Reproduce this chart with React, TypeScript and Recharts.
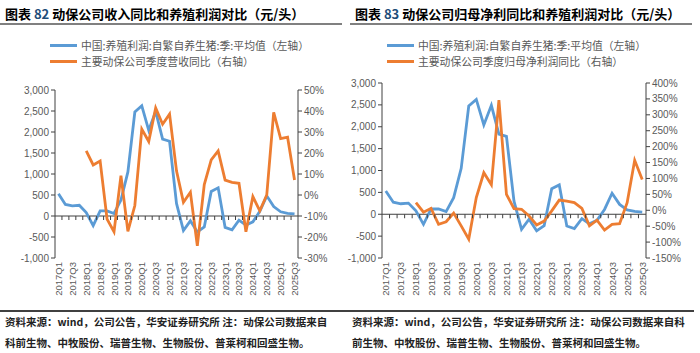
import React from 'react';
import { LineChart, Line, XAxis, YAxis, ReferenceLine } from 'recharts';

// --- 数据 ---
const quarters = [
  '2017Q1', '2017Q2', '2017Q3', '2017Q4', '2018Q1', '2018Q2', '2018Q3', '2018Q4',
  '2019Q1', '2019Q2', '2019Q3', '2019Q4', '2020Q1', '2020Q2', '2020Q3', '2020Q4',
  '2021Q1', '2021Q2', '2021Q3', '2021Q4', '2022Q1', '2022Q2', '2022Q3', '2022Q4',
  '2023Q1', '2023Q2', '2023Q3', '2023Q4', '2024Q1', '2024Q2', '2024Q3', '2024Q4',
  '2025Q1', '2025Q2', '2025Q3',
];

// 自繁自养生猪养殖利润（元/头）
const pigProfit = [
  530, 275, 240, 255, 80, -230, 120, 120, 60, 380, 1050, 2475, 2625, 2040, 2490, 1830,
  1780, 300, -345, -115, -380, -260, 585, 670, -270, -330, -100, -220, -140, 110, 480, 225,
  100, 65, 50,
];

// 主要动保公司季度营收同比（%）
const revenueYoy = [
  null, null, null, null, 21, 14.3, 16.2, -11.5, -17.5, 9.2, -17.3, -5, 31.4, 25.5, 41.5, 33.7,
  38.5, 11.5, -3.5, 1.3, -24.2, 5, 16.7, 21, 7.1, 6, 5.6, -17.5, -0.8, -7.5, 0, 39.4,
  26.8, 27.5, 7.1,
];

// 主要动保公司季度归母净利润同比（%）
const netProfitYoy = [
  null, null, null, null, 24, -6, 6, -44, -36, -9, -49, -91, 40, 118, 80, 346,
  50, 5, 3, -18, -46, -34, -2, 32, 29, 24, 6, -49, -31, -62, -44, -42,
  24, 157, 97,
];

const profitTicks = [-1000, -500, 0, 500, 1000, 1500, 2000, 2500, 3000];
const revenueTicks = [-30, -20, -10, 0, 10, 20, 30, 40, 50];
const netProfitTicks = [-150, -100, -50, 0, 50, 100, 150, 200, 250, 300, 350, 400];

const BLUE = '#5B9BD5';
const ORANGE = '#ED7D31';
const AXIS = '#404040';
const TEXT = '#595959';
const NUM_FONT = '"Liberation Sans", Arial, sans-serif';
const CJK_FONT = '"Noto Sans CJK SC", "Noto Sans", sans-serif';

const chartData = quarters.map((q, i) => ({
  q,
  profit: pigProfit[i],
  rev: revenueYoy[i],
  net: netProfitYoy[i],
}));

const fmtThousands = (v: number) => v.toLocaleString('en-US');
const fmtPct = (v: number) => `${v}%`;

// X 轴：标签在底部竖排，刻度线画在 0 线上（Excel 风格）
const makeTick = (zeroY: number, labelY: number, step: number) => (props: any) => {
  const { x, payload } = props;
  const i = payload.index;
  return (
    <g>
      {i < quarters.length - 1 && (
        <line x1={x + step / 2} x2={x + step / 2} y1={zeroY} y2={zeroY + 4} stroke={AXIS} strokeWidth={1} />
      )}
      {i % 2 === 0 && (
        <text
          transform={`translate(${x},${labelY}) rotate(-90)`}
          textAnchor="end"
          dominantBaseline="central"
          fontSize={9.5}
          fontFamily={NUM_FONT}
          fill={TEXT}
        >
          {payload.value}
        </text>
      )}
    </g>
  );
};

interface PanelProps {
  left: number;
  shift: number; // 图表区相对面板左移，给左轴标签留位置
  num: string;
  title: string;
  legend: string[];
  rightKey: 'rev' | 'net';
  rightTicks: number[];
  margin: { top: number; right: number; bottom: number; left: number };
  leftWidth: number;
  rightWidth: number;
  legendX: number;
}

function Panel(p: PanelProps) {
  const W = 350 + p.shift;
  const H = 310;
  const xAxisH = 52;
  const plotLeft = p.margin.left + p.leftWidth;
  const plotRight = W - p.margin.right - p.rightWidth;
  const plotTop = p.margin.top;
  const plotBottom = H - p.margin.bottom - xAxisH;
  const step = (plotRight - plotLeft) / quarters.length;
  const zeroY = plotTop + (plotBottom - plotTop) * 3000 / 4000;
  const rMin = p.rightTicks[0];
  const rMax = p.rightTicks[p.rightTicks.length - 1];

  return (
    <div style={{ position: 'absolute', left: p.left, top: 0, width: 350, height: H }}>
      <div style={{ position: 'absolute', left: 5, top: 5, whiteSpace: 'nowrap', fontFamily: CJK_FONT, fontSize: 13, fontWeight: 700, lineHeight: '18px', color: '#000' }}>
        图表 <span style={{ color: '#1F4E79' }}>{p.num}</span> {p.title}
      </div>
      <div style={{ position: 'absolute', left: 0, top: 23, width: 342, height: 2, background: '#808080' }} />
      <LineChart width={W} height={H} data={chartData} margin={p.margin} style={{ position: 'absolute', left: -p.shift, top: 0 }}>
        <XAxis
          dataKey="q"
          interval={0}
          height={xAxisH}
          axisLine={false}
          tickLine={false}
          padding={{ left: step / 2, right: step / 2 }}
          tick={makeTick(zeroY, plotBottom + 4, step)}
        />
        <YAxis
          yAxisId="left"
          domain={[-1000, 3000]}
          ticks={profitTicks}
          width={p.leftWidth}
          tickFormatter={fmtThousands}
          stroke={AXIS}
          tickSize={4}
          tickMargin={2}
          tick={{ fill: TEXT, fontSize: 10, fontFamily: NUM_FONT }}
          interval={0}
        />
        <YAxis
          yAxisId="right"
          orientation="right"
          domain={[rMin, rMax]}
          ticks={p.rightTicks}
          width={p.rightWidth}
          tickFormatter={fmtPct}
          stroke={AXIS}
          tickSize={4}
          tickMargin={2}
          tick={{ fill: TEXT, fontSize: 10, fontFamily: NUM_FONT }}
          interval={0}
        />
        <ReferenceLine yAxisId="left" y={0} stroke={AXIS} strokeWidth={1} />
        <Line yAxisId="left" dataKey="profit" stroke={BLUE} strokeWidth={2.8} dot={false} isAnimationActive={false} />
        <Line yAxisId="right" dataKey={p.rightKey} stroke={ORANGE} strokeWidth={2.8} dot={false} isAnimationActive={false} />
      </LineChart>
      {p.legend.map((t, k) => (
        <div key={k} style={{ position: 'absolute', left: p.legendX, top: 37 + k * 16, height: 16, display: 'flex', alignItems: 'center', whiteSpace: 'nowrap' }}>
          <div style={{ width: 27, height: 3, background: k === 0 ? BLUE : ORANGE, marginRight: 4 }} />
          <span style={{ fontFamily: CJK_FONT, fontSize: 10.8, color: TEXT }}>{t}</span>
        </div>
      ))}
    </div>
  );
}

export default function App() {
  const note = { position: 'absolute' as const, fontFamily: CJK_FONT, fontSize: 10.5, fontWeight: 700, color: '#222', whiteSpace: 'nowrap' as const, lineHeight: '14px' };
  return (
    <div style={{ position: 'absolute', left: 0, top: 0, width: 700, height: 353, background: '#fff', overflow: 'hidden' }}>
      <Panel
        left={0}
        shift={0}
        num="82"
        title="动保公司收入同比和养殖利润对比（元/头）"
        legend={['中国:养殖利润:自繁自养生猪:季:平均值（左轴）', '主要动保公司季度营收同比（右轴）']}
        rightKey="rev"
        rightTicks={revenueTicks}
        margin={{ top: 90, right: 7, bottom: 0, left: 5 }}
        leftWidth={50}
        rightWidth={45}
        legendX={50}
      />
      <Panel
        left={350}
        shift={12}
        num="83"
        title="动保公司归母净利同比和养殖利润对比（元/头）"
        legend={['中国:养殖利润:自繁自养生猪:季:平均值（左轴）', '主要动保公司季度归母净利润同比（右轴）']}
        rightKey="net"
        rightTicks={netProfitTicks}
        margin={{ top: 83, right: 8, bottom: 0, left: 12 }}
        leftWidth={32}
        rightWidth={46}
        legendX={37}
      />
      <div style={{ position: 'absolute', left: 0, top: 310, width: 694, height: 2, background: '#404040' }} />
      <div style={{ ...note, left: 5, top: 315 }}>资料来源：wind，公司公告，华安证券研究所 注：动保公司数据来自</div>
      <div style={{ ...note, left: 5, top: 336 }}>科前生物、中牧股份、瑞普生物、生物股份、普莱柯和回盛生物。</div>
      <div style={{ ...note, left: 352, top: 315 }}>资料来源：wind，公司公告，华安证券研究所 注：动保公司数据来自科</div>
      <div style={{ ...note, left: 352, top: 336 }}>前生物、中牧股份、瑞普生物、生物股份、普莱柯和回盛生物。</div>
    </div>
  );
}
